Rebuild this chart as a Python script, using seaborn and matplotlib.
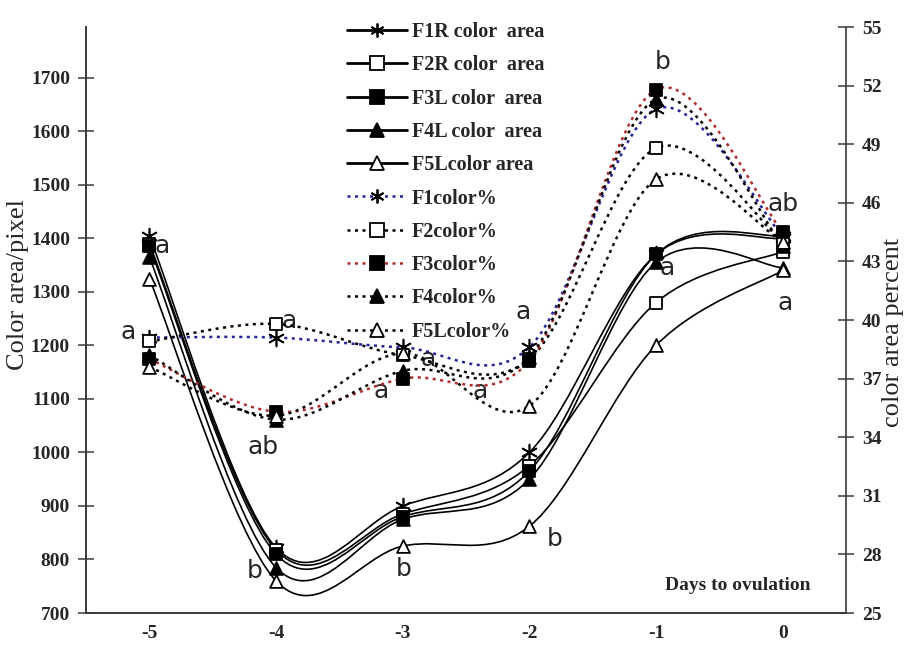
import numpy as np
import pandas as pd
import seaborn as sns
import matplotlib.pyplot as plt
from matplotlib.path import Path
from matplotlib.patches import PathPatch
from matplotlib.lines import Line2D

# ---- data ----
days = [-5, -4, -3, -2, -1, 0]
day_labels = ['-5', '-4', '-3', '-2', '-1', '0']

f1r_area = [1405, 822, 900, 1000, 1370, 1400]
f2r_area = [1390, 818, 885, 975, 1280, 1375]
f3l_area = [1385, 810, 880, 965, 1370, 1405]
f4l_area = [1365, 785, 875, 950, 1355, 1345]
f5l_area = [1325, 760, 825, 862, 1200, 1340]

f1_pct = [39.1, 39.1, 38.6, 38.6, 50.8, 44.3]
f2_pct = [38.9, 39.8, 38.2, 38.0, 48.8, 44.0]
f3_pct = [38.0, 35.3, 37.0, 37.9, 51.8, 44.5]
f4_pct = [38.2, 34.9, 37.4, 38.1, 51.3, 43.8]
f5_pct = [37.6, 35.1, 38.3, 35.6, 47.2, 44.0]

area_ticks = list(range(700, 1800, 100))
pct_ticks = list(range(25, 56, 3))

# significance letters: (text, day, area-scale value)
letters = [('a', -4.9, 1385), ('a', -5.17, 1225), ('a', -3.9, 1245),
           ('ab', -4.1, 1010), ('b', -4.17, 778), ('b', -2.99, 782),
           ('a', -2.8, 1175), ('a', -3.17, 1115), ('a', -2.05, 1262),
           ('a', -2.39, 1115), ('b', -1.8, 838), ('b', -0.95, 1730),
           ('a', -0.91, 1345), ('ab', 0.0, 1465), ('a', 0.02, 1280)]


def smooth_path(xs, ys):
    # Excel-like smoothed line: cubic bezier through every point
    pts = np.column_stack([xs, ys]).astype(float)
    n = len(pts)
    verts = [pts[0]]
    codes = [Path.MOVETO]
    for i in range(n - 1):
        p0 = pts[max(i - 1, 0)]
        p1 = pts[i]
        p2 = pts[i + 1]
        p3 = pts[min(i + 2, n - 1)]
        verts += [p1 + (p2 - p0) / 6, p2 - (p3 - p1) / 6, p2]
        codes += [Path.CURVE4] * 3
    return Path(verts, codes)


sns.set_style('white')
plt.rcParams['font.family'] = ['Liberation Serif', 'DejaVu Serif']

fi = plt.figure(figsize=(9.19, 6.69), dpi=100)
ax = fi.add_axes([86 / 919, 1 - 613 / 669, 760 / 919, 586 / 669])
ax2 = ax.twinx()

asterisk = (6, 2, 0)
dot = (0, (1.2, 1.8))

area_series = [
    ('F1R color  area', f1r_area, asterisk, 'black'),
    ('F2R color  area', f2r_area, 's', 'white'),
    ('F3L color  area', f3l_area, 's', 'black'),
    ('F4L color  area', f4l_area, '^', 'black'),
    ('F5Lcolor area', f5l_area, '^', 'white'),
]
pct_series = [
    ('F1color%', f1_pct, asterisk, 'black', '#23249a'),
    ('F2color%', f2_pct, 's', 'white', 'black'),
    ('F3color%', f3_pct, 's', 'black', '#b22a2a'),
    ('F4color%', f4_pct, '^', 'black', 'black'),
    ('F5Lcolor%', f5_pct, '^', 'white', 'black'),
]


def draw_markers(target, vals, mk, fc):
    df = pd.DataFrame({'day': days, 'val': vals})
    if mk == asterisk:
        sns.scatterplot(data=df, x='day', y='val', marker=mk, s=130,
                        color='black', linewidth=1.2, ax=target, zorder=3)
    else:
        sns.scatterplot(data=df, x='day', y='val', marker=mk, s=85,
                        facecolor=fc, edgecolor='black', linewidth=1.3,
                        ax=target, zorder=3)


handles = []
for name, vals, mk, fc in area_series:
    ax.add_patch(PathPatch(smooth_path(days, vals), fill=False,
                           edgecolor='black', lw=1.2, zorder=2))
    draw_markers(ax, vals, mk, fc)
    handles.append(Line2D([], [], color='black', lw=2, marker=mk,
                          markersize=10, markerfacecolor=fc,
                          markeredgecolor='black', markeredgewidth=1.3,
                          label=name))

for name, vals, mk, fc, lc in pct_series:
    ax2.add_patch(PathPatch(smooth_path(days, vals), fill=False,
                            edgecolor=lc, lw=1.8, linestyle=dot, zorder=2))
    draw_markers(ax2, vals, mk, fc)
    handles.append(Line2D([], [], color=lc, lw=1.8, linestyle=dot, marker=mk,
                          markersize=10, markerfacecolor=fc,
                          markeredgecolor='black', markeredgewidth=1.3,
                          label=name))

# axes
ax.set_xlim(-5.5, 0.5)
ax.set_ylim(700, 1795)
ax2.set_ylim(25, 55)
ax.set_xticks(days)
ax.set_xticklabels(day_labels)
ax.set_xticks(np.arange(-4.5, 1.0, 1.0), minor=True)
ax.set_yticks(area_ticks)
ax2.set_yticks(pct_ticks)
ax.set_xlabel('')
ax.set_ylabel('')
ax2.set_ylabel('')

for a in (ax, ax2):
    a.spines['top'].set_visible(False)
    for s in a.spines.values():
        s.set_color('#3a3a3a')
        s.set_linewidth(1.2)
ax.spines['right'].set_visible(False)

tick_font = dict(family='Liberation Serif', weight='bold', size=14)
ax.tick_params(axis='x', which='major', length=0, pad=9)
ax.tick_params(axis='x', which='minor', direction='inout', length=14,
               width=1.1, color='#3a3a3a')
ax.tick_params(axis='y', direction='inout', length=11, width=1.1,
               color='#3a3a3a', pad=6)
ax2.tick_params(axis='y', direction='inout', length=11, width=1.1,
                color='#3a3a3a', pad=6)
for lab in ax.get_xticklabels() + ax.get_yticklabels() + ax2.get_yticklabels():
    lab.set_fontproperties(tick_font)

for txt, dx, dy in letters:
    ax.text(dx, dy, txt, ha='center', va='center', fontsize=18,
            family='DejaVu Sans', zorder=5)

fi.text(18 / 919, 1 - 285 / 669, 'Color area/pixel', rotation=90,
        ha='center', va='center', fontsize=19)
fi.text(893 / 919, 1 - 332 / 669, 'color area percent', rotation=90,
        ha='center', va='center', fontsize=19)
fi.text(738 / 919, 1 - 585 / 669, 'Days to ovulation', ha='center',
        va='center', fontsize=14, weight='bold')

fi.legend(handles=handles, loc='upper left',
          bbox_to_anchor=(337 / 919, 1 - 12 / 669), frameon=False,
          borderpad=0, handlelength=3.0, handletextpad=0.2,
          labelspacing=0.66, prop=dict(family='Liberation Serif',
                                       weight='bold', size=14.5))

fi.savefig('out.png', dpi=100)
